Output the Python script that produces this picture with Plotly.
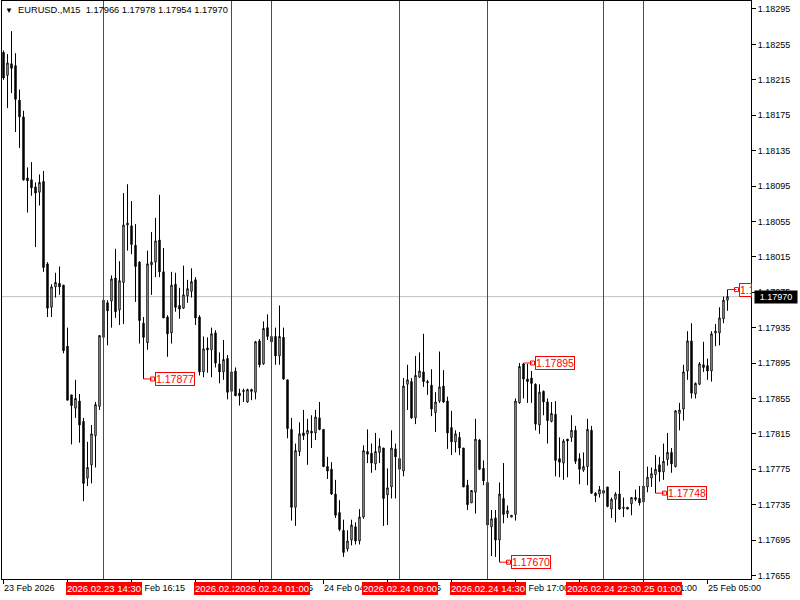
import plotly.graph_objects as go

# ---- data (EURUSD M15) ----
opens = [1.18246,1.18220,1.18233,1.18231,1.18192,1.18173,1.18104,1.18102,1.18094,1.18088,
         1.18100,1.18007,1.17958,1.17981,1.17985,1.17983,1.17914,1.17859,1.17844,1.17852,
         1.17829,1.17765,1.17780,1.17813,1.17846,1.17924,1.17963,1.17965,1.17991,1.17955,
         1.17986,1.18051,1.18050,1.18028,1.18009,1.17940,1.17918,1.18006,1.18009,1.18034,
         1.17998,1.17947,1.17929,1.17984,1.17960,1.17957,1.17971,1.17976,1.17989,1.17947,
         1.17885,1.17912,1.17910,1.17929,1.17894,1.17885,1.17900,1.17863,1.17886,1.17861,
         1.17864,1.17851,1.17865,1.17862,1.17920,1.17894,1.17935,1.17925,1.17925,1.17903,
         1.17924,1.17876,1.17820,1.17732,1.17795,1.17816,1.17815,1.17818,1.17816,1.17833,
         1.17820,1.17778,1.17775,1.17747,1.17726,1.17706,1.17685,1.17695,1.17710,1.17694,
         1.17721,1.17795,1.17793,1.17781,1.17794,1.17799,1.17746,1.17755,1.17798,1.17787,
         1.17773,1.17871,1.17874,1.17833,1.17879,1.17885,1.17874,1.17870,1.17839,1.17852,
         1.17869,1.17852,1.17822,1.17806,1.17811,1.17799,1.17757,1.17737,1.17749,1.17808,
         1.17776,1.17760,1.17710,1.17720,1.17695,1.17742,1.17725,1.17721,1.17724,1.17850,
         1.17894,1.17877,1.17878,1.17871,1.17825,1.17863,1.17851,1.17829,1.17837,1.17787,
         1.17782,1.17809,1.17811,1.17819,1.17787,1.17774,1.17778,1.17819,1.17748,1.17747,
         1.17751,1.17755,1.17730,1.17741,1.17747,1.17732,1.17732,1.17736,1.17743,1.17742,
         1.17738,1.17755,1.17765,1.17769,1.17780,1.17772,1.17786,1.17794,1.17778,1.17838,
         1.17843,1.17886,1.17920,1.17860,1.17871,1.17893,1.17892,1.17886,1.17929,1.17929,
         1.17945,1.17966]
highs = [1.18248,1.18244,1.18270,1.18245,1.18204,1.18180,1.18116,1.18122,1.18099,1.18108,
         1.18112,1.18009,1.17984,1.17997,1.18004,1.17983,1.17935,1.17859,1.17876,1.17860,
         1.17833,1.17806,1.17825,1.17851,1.17926,1.17966,1.17966,1.17994,1.18024,1.18010,
         1.18087,1.18097,1.18078,1.18052,1.18010,1.17947,1.18022,1.18043,1.18059,1.18085,
         1.18025,1.17949,1.17998,1.17997,1.17980,1.18005,1.17989,1.18002,1.17992,1.17949,
         1.17925,1.17924,1.17935,1.17932,1.17907,1.17921,1.17904,1.17885,1.17890,1.17866,
         1.17866,1.17866,1.17866,1.17920,1.17922,1.17942,1.17950,1.17938,1.17935,1.17960,
         1.17935,1.17876,1.17833,1.17804,1.17828,1.17842,1.17832,1.17836,1.17842,1.17851,
         1.17820,1.17789,1.17783,1.17763,1.17740,1.17718,1.17706,1.17718,1.17715,1.17730,
         1.17802,1.17820,1.17804,1.17816,1.17810,1.17799,1.17776,1.17819,1.17804,1.17800,
         1.17878,1.17893,1.17878,1.17903,1.17907,1.17928,1.17876,1.17888,1.17862,1.17908,
         1.17887,1.17857,1.17841,1.17819,1.17817,1.17799,1.17763,1.17751,1.17832,1.17809,
         1.17785,1.17766,1.17729,1.17729,1.17760,1.17782,1.17734,1.17723,1.17855,1.17895,
         1.17895,1.17894,1.17886,1.17872,1.17871,1.17864,1.17855,1.17851,1.17852,1.17811,
         1.17809,1.17809,1.17836,1.17824,1.17793,1.17794,1.17832,1.17824,1.17749,1.17756,
         1.17754,1.17755,1.17743,1.17749,1.17773,1.17743,1.17732,1.17743,1.17752,1.17756,
         1.17757,1.17778,1.17777,1.17791,1.17789,1.17804,1.17816,1.17799,1.17842,1.17850,
         1.17893,1.17931,1.17940,1.17873,1.17896,1.17919,1.17900,1.17931,1.17939,1.17958,
         1.17970,1.17978]
lows = [1.18215,1.18183,1.18200,1.18156,1.18138,1.18101,1.18065,1.18084,1.18026,1.18073,
        1.17998,1.17947,1.17947,1.17969,1.17972,1.17906,1.17853,1.17803,1.17833,1.17805,
        1.17739,1.17756,1.17759,1.17777,1.17842,1.17915,1.17915,1.17935,1.17946,1.17938,
        1.17939,1.18022,1.18018,1.17964,1.17917,1.17877,1.17910,1.17972,1.17992,1.17992,
        1.17946,1.17902,1.17917,1.17953,1.17945,1.17956,1.17963,1.17969,1.17938,1.17881,
        1.17879,1.17884,1.17879,1.17890,1.17872,1.17876,1.17854,1.17853,1.17858,1.17847,
        1.17851,1.17850,1.17853,1.17854,1.17890,1.17893,1.17921,1.17917,1.17893,1.17893,
        1.17876,1.17810,1.17717,1.17711,1.17790,1.17808,1.17780,1.17799,1.17808,1.17819,
        1.17778,1.17764,1.17746,1.17720,1.17705,1.17676,1.17682,1.17689,1.17690,1.17690,
        1.17719,1.17782,1.17771,1.17774,1.17782,1.17711,1.17712,1.17742,1.17742,1.17774,
        1.17767,1.17842,1.17832,1.17826,1.17878,1.17868,1.17859,1.17835,1.17817,1.17850,
        1.17850,1.17798,1.17791,1.17794,1.17791,1.17755,1.17729,1.17737,1.17725,1.17774,
        1.17757,1.17712,1.17677,1.17676,1.17670,1.17714,1.17720,1.17721,1.17717,1.17849,
        1.17855,1.17850,1.17850,1.17819,1.17815,1.17836,1.17804,1.17828,1.17767,1.17766,
        1.17763,1.17766,1.17806,1.17781,1.17758,1.17772,1.17757,1.17747,1.17738,1.17743,
        1.17740,1.17732,1.17720,1.17715,1.17729,1.17721,1.17730,1.17723,1.17739,1.17734,
        1.17737,1.17749,1.17755,1.17748,1.17761,1.17763,1.17779,1.17771,1.17777,1.17819,
        1.17830,1.17876,1.17855,1.17855,1.17870,1.17885,1.17876,1.17874,1.17914,1.17915,
        1.17940,1.17954]
closes = [1.18217,1.18234,1.18228,1.18193,1.18173,1.18102,1.18101,1.18093,1.18087,1.18099,
          1.18003,1.17957,1.17981,1.17986,1.17981,1.17909,1.17853,1.17847,1.17855,1.17825,
          1.17759,1.17777,1.17815,1.17848,1.17926,1.17966,1.17954,1.17990,1.17953,1.17988,
          1.18051,1.18053,1.18029,1.18004,1.17943,1.17924,1.18007,1.18009,1.18033,1.17998,
          1.17946,1.17928,1.17983,1.17958,1.17956,1.17972,1.17979,1.17987,1.17946,1.17885,
          1.17911,1.17910,1.17928,1.17895,1.17885,1.17899,1.17862,1.17885,1.17858,1.17858,
          1.17863,1.17865,1.17863,1.17919,1.17893,1.17934,1.17925,1.17919,1.17903,1.17925,
          1.17877,1.17821,1.17732,1.17796,1.17815,1.17813,1.17819,1.17816,1.17834,1.17820,
          1.17778,1.17773,1.17747,1.17723,1.17707,1.17681,1.17694,1.17712,1.17694,1.17721,
          1.17796,1.17792,1.17782,1.17795,1.17801,1.17742,1.17754,1.17799,1.17789,1.17775,
          1.17869,1.17876,1.17833,1.17881,1.17886,1.17874,1.17873,1.17843,1.17851,1.17868,
          1.17851,1.17816,1.17806,1.17815,1.17799,1.17755,1.17735,1.17751,1.17809,1.17775,
          1.17762,1.17712,1.17719,1.17695,1.17747,1.17724,1.17728,1.17723,1.17852,1.17891,
          1.17877,1.17874,1.17872,1.17826,1.17862,1.17851,1.17830,1.17838,1.17785,1.17783,
          1.17807,1.17807,1.17819,1.17784,1.17775,1.17778,1.17820,1.17748,1.17745,1.17752,
          1.17748,1.17733,1.17741,1.17747,1.17730,1.17731,1.17730,1.17743,1.17741,1.17737,
          1.17756,1.17766,1.17770,1.17775,1.17772,1.17784,1.17794,1.17781,1.17841,1.17842,
          1.17885,1.17920,1.17861,1.17872,1.17894,1.17890,1.17886,1.17928,1.17931,1.17946,
          1.17966,1.17970]
bars = list(range(len(opens)))

price_tick_vals = [1.17655, 1.17695, 1.17735, 1.17775, 1.17815, 1.17855, 1.17895, 1.17935,
                   1.17975, 1.18015, 1.18055, 1.18095, 1.18135, 1.18175, 1.18215, 1.18255, 1.18295]
price_tick_text = ["1.17655", "1.17695", "1.17735", "1.17775", "1.17815", "1.17855", "1.17895", "1.17935",
                   "1.17975", "1.18015", "1.18055", "1.18095", "1.18135", "1.18175", "1.18215", "1.18255", "1.18295"]

time_tick_bars = [0, 16, 32, 48, 64, 80, 96, 112, 128, 144, 160, 176]
time_tick_labels = ["23 Feb 2026", "23 Feb 12:15", "23 Feb 16:15", "23 Feb 20:15", "24 Feb 00:15",
                    "24 Feb 04:15", "24 Feb 08:15", "24 Feb 12:15", "24 Feb 17:00", "24 Feb 21:00",
                    "25 Feb 01:00", "25 Feb 05:00"]

vline_bars = [25, 57, 67, 99, 121, 160, 150]
vline_labels = ["2026.02.23 14:30", "2026.02.23 22:30", "2026.02.24 01:00", "2026.02.24 09:00",
                "2026.02.24 14:30", "2026.02.25 01:00", "2026.02.24 22:30"]

mark_bars = [35, 124, 130, 163, 181]
mark_prices = [1.17877, 1.17670, 1.17895, 1.17748, 1.17978]
mark_texts = ["1.17877", "1.17670", "1.17895", "1.17748", "1.1"]

bid_price = 1.17970
bid_text = "1.17970"
header_text = "EURUSD.,M15  1.17966 1.17978 1.17954 1.17970"

FONT = "Liberation Sans"

fig = go.Figure()
fig.add_trace(go.Candlestick(
    x=bars, open=opens, high=highs, low=lows, close=closes,
    increasing=dict(line=dict(color="black", width=1), fillcolor="white"),
    decreasing=dict(line=dict(color="black", width=1), fillcolor="black"),
    whiskerwidth=0, showlegend=False, hoverinfo="skip"))

# connectors for the price marks
cx, cy = [], []
for b, p in zip(mark_bars, mark_prices):
    cx += [b, b + 2.25, None]
    cy += [p, p, None]
fig.add_trace(go.Scatter(x=cx, y=cy, mode="lines", line=dict(color="red", width=1),
                         showlegend=False, hoverinfo="skip"))
fig.add_trace(go.Scatter(x=[b + 2.25 for b in mark_bars], y=mark_prices, mode="markers",
                         marker=dict(symbol="square-open", size=4, color="red", line=dict(width=1, color="red")),
                         showlegend=False, hoverinfo="skip"))

shapes = [dict(type="line", xref="paper", x0=0, x1=1, yref="y", y0=bid_price, y1=bid_price,
               line=dict(color="#C0C0C0", width=1), layer="below")]
for b in vline_bars:
    shapes.append(dict(type="line", xref="x", x0=b, x1=b, yref="paper", y0=0, y1=1,
                       line=dict(color="#FF0000", width=1), layer="above"))

ann = []
ann.append(dict(xref="paper", yref="paper", x=0, y=1, xanchor="left", yanchor="middle",
                xshift=1, yshift=-9, text="▼", showarrow=False,
                font=dict(family=FONT, size=8, color="black")))
ann.append(dict(xref="paper", yref="paper", x=0, y=1, xanchor="left", yanchor="middle",
                xshift=14, yshift=-9, text=header_text, showarrow=False,
                font=dict(family=FONT, size=9.3, color="black")))
for b, t in zip(time_tick_bars, time_tick_labels):
    ann.append(dict(xref="x", yref="paper", x=b, y=0, xanchor="left", yanchor="top",
                    xshift=-2, yshift=-2, text=t, showarrow=False,
                    font=dict(family=FONT, size=9, color="black")))
for b, t in zip(vline_bars, vline_labels):
    ann.append(dict(xref="x", yref="paper", x=b, y=0, xanchor="center", yanchor="top",
                    yshift=-3, text=t, showarrow=False, bgcolor="#FF0000",
                    bordercolor="#FF0000", borderwidth=0, borderpad=1,
                    font=dict(family=FONT, size=9.5, color="white")))
for b, p, t in zip(mark_bars, mark_prices, mark_texts):
    extra = dict(width=11, align="left") if len(t) < 4 else {}
    ann.append(dict(xref="x", yref="y", x=b + 2.75, y=p, xanchor="left", yanchor="middle",
                    text=t, showarrow=False, bgcolor="white", bordercolor="red",
                    borderwidth=1, borderpad=0,
                    font=dict(family=FONT, size=10.5, color="red"), **extra))
ann.append(dict(xref="paper", yref="y", x=1, y=bid_price, xanchor="left", yanchor="middle",
                xshift=3, text=bid_text, showarrow=False, bgcolor="black", borderpad=1,
                width=40, align="center", font=dict(family=FONT, size=9, color="white")))

fig.update_layout(
    width=800, height=600,
    margin=dict(l=2, r=49, t=1, b=21, pad=0),
    paper_bgcolor="white", plot_bgcolor="white",
    boxgap=0.5,
    shapes=shapes, annotations=ann,
    xaxis=dict(range=[-0.375, 186.875], showgrid=False, zeroline=False, showline=True,
               linecolor="black", linewidth=1, mirror=True, ticks="outside",
               tickvals=time_tick_bars, ticklen=4, tickcolor="black",
               showticklabels=False, rangeslider=dict(visible=False), fixedrange=True),
    yaxis=dict(range=[1.17651, 1.18304], side="right", showgrid=False, zeroline=False,
               showline=True, linecolor="black", linewidth=1, mirror=True,
               ticks="outside", ticklen=4, tickcolor="black",
               tickvals=price_tick_vals, ticktext=price_tick_text,
               tickfont=dict(family=FONT, size=9, color="black"), fixedrange=True),
    font=dict(family=FONT, size=9, color="black"),
)

fig.write_html("out.html", config={"displayModeBar": False},
               post_script="document.body.style.margin='0';document.body.style.overflow='hidden';")
